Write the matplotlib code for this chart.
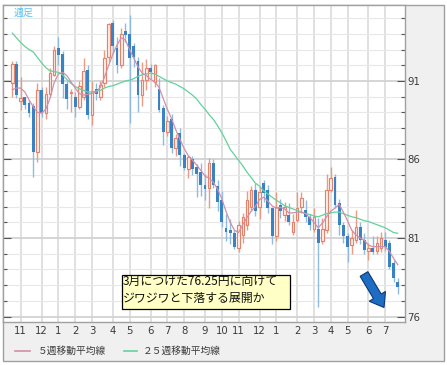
"""Weekly candlestick chart (週足) with 5- and 25-week moving averages.

Writes out.png (447x365 px).
"""

import matplotlib

matplotlib.use("Agg")

import matplotlib.pyplot as plt
import numpy as np
from matplotlib.lines import Line2D
from matplotlib.patches import FancyArrow, Rectangle
from matplotlib.ticker import MultipleLocator

# weekly OHLC, oldest first
OPEN = [
    90.9, 92.1, 89.7, 89.95, 89.6, 89.4, 86.5, 90.45, 88.95, 90.2,
    91.4, 93.1, 92.7, 90.8, 90.25, 89.95, 89.35, 89.95, 91.7, 88.85,
    90.5, 90.0, 90.85, 92.5, 94.7, 93.1, 92.0, 94.2, 94.0, 93.2,
    92.3, 90.1, 91.05, 91.8, 90.95, 90.5, 89.3, 87.75, 88.6, 86.75,
    87.7, 86.3, 85.4, 86.0, 85.5, 85.2, 84.4, 84.2, 85.8, 84.3,
    83.4, 81.65, 81.5, 81.35, 80.35, 81.2, 81.8, 83.0, 84.05, 82.95,
    84.5, 84.05, 82.9, 81.1, 83.1, 82.45, 82.45, 81.4, 82.15, 82.95,
    82.8, 82.35, 81.6, 81.6, 80.8, 81.5, 84.05, 84.9, 83.2, 81.8,
    81.1, 80.55, 80.9, 81.7, 80.85, 80.2, 80.35, 80.15, 80.35, 80.85,
    80.7, 79.4, 78.2,
]
HIGH = [
    92.3, 92.3, 91.25, 90.0, 89.8, 89.6, 90.85, 90.6, 90.6, 91.8,
    93.2, 93.8, 92.9, 91.0, 90.5, 90.3, 91.0, 92.45, 92.0, 91.0,
    90.9, 91.0, 93.0, 94.7, 94.9, 93.8, 94.4, 94.7, 95.2, 93.4,
    92.5, 92.2, 92.4, 92.1, 92.1, 91.2, 89.5, 88.8, 88.9, 87.6,
    88.0, 86.4, 86.3, 86.2, 85.7, 85.8, 85.1, 86.1, 86.0, 84.7,
    84.0, 82.5, 82.2, 81.5, 82.1, 82.6, 84.0, 84.3, 84.5, 84.3,
    84.7, 84.4, 83.0, 83.9, 83.5, 83.3, 83.2, 82.5, 83.9, 83.95,
    83.4, 82.5, 82.9, 82.3, 82.3, 85.05, 85.5, 85.1, 83.5, 82.0,
    81.3, 81.5, 82.8, 82.0, 81.3, 80.7, 81.1, 81.1, 81.4, 81.4,
    80.9, 79.6, 78.45,
]
LOW = [
    90.0, 89.9, 89.15, 89.2, 88.7, 84.9, 85.85, 88.7, 88.6, 90.0,
    91.3, 92.0, 89.9, 89.2, 89.0, 88.7, 89.2, 89.8, 88.6, 88.2,
    89.8, 89.8, 90.6, 92.2, 92.8, 91.5, 91.8, 93.5, 88.3, 91.9,
    89.0, 89.4, 90.4, 91.1, 90.6, 89.0, 86.9, 87.5, 86.4, 86.2,
    85.6, 85.3, 84.8, 85.0, 83.6, 83.7, 83.4, 82.9, 84.2, 82.7,
    81.7, 80.8, 80.6, 80.3, 80.1, 80.7, 81.5, 82.7, 82.4, 82.2,
    83.3, 82.6, 80.6, 80.8, 82.3, 82.1, 81.8, 81.2, 82.0, 82.6,
    82.0, 81.5, 81.4, 76.6, 80.6, 81.3, 83.9, 82.9, 81.2, 80.7,
    79.5, 80.0, 80.7, 80.6, 80.0, 79.6, 80.0, 80.0, 80.1, 80.2,
    79.0, 78.2, 77.45,
]
CLOSE = [
    92.1, 90.1, 89.9, 89.5, 88.95, 86.5, 90.4, 88.95, 90.2, 91.5,
    93.0, 92.65, 90.8, 89.85, 90.3, 89.35, 90.7, 91.65, 88.85, 90.35,
    90.2, 90.75, 92.45, 94.6, 93.2, 92.0, 94.0, 93.95, 92.45, 92.5,
    90.1, 91.05, 91.8, 91.55, 92.0, 89.15, 87.75, 88.45, 86.75, 87.35,
    86.3, 85.45, 86.15, 85.4, 85.1, 84.4, 84.1, 85.8, 84.4, 83.3,
    82.0, 81.4, 81.3, 80.4, 81.8, 82.35, 83.4, 84.05, 82.7, 83.9,
    83.85, 82.9, 81.1, 83.0, 82.7, 83.0, 82.05, 82.0, 82.9, 83.55,
    82.35, 81.8, 82.35, 80.65, 81.6, 84.05, 84.8, 83.1, 81.8, 81.1,
    80.45, 81.0, 81.7, 80.85, 80.25, 80.35, 80.1, 80.65, 81.0, 80.45,
    79.15, 78.45, 77.9,
]

# moving averages, one value per week
MA5 = [
    90.45, 90.55, 90.55, 90.3, 89.8, 89.35, 89.0, 88.95, 89.2, 89.9,
    90.9, 91.45, 91.55, 91.35, 90.95, 90.55, 90.2, 90.1, 90.15, 90.2,
    90.3, 90.6, 91.25, 92.0, 92.7, 93.3, 93.75, 93.6, 93.0, 92.45,
    91.9, 91.5, 91.35, 91.1, 90.95, 90.6, 89.9, 89.2, 88.6, 87.9,
    87.3, 86.7, 86.25, 85.95, 85.65, 85.3, 84.95, 84.8, 84.55, 84.1,
    83.5, 82.7, 82.0, 81.5, 81.35, 81.85, 82.3, 82.7, 83.0, 83.45,
    83.6, 83.35, 83.05, 82.9, 82.95, 82.85, 82.6, 82.6, 82.65, 82.65,
    82.55, 82.3, 82.0, 81.65, 81.95, 82.35, 82.7, 82.9, 83.15, 82.65,
    82.1, 81.5, 81.2, 81.0, 80.85, 80.55, 80.45, 80.45, 80.45, 80.45,
    80.15, 79.7, 79.3,
]
MA25 = [
    94.05, 93.75, 93.45, 93.2, 93.0, 92.85, 92.5, 92.15, 91.85, 91.65,
    91.6, 91.55, 91.4, 91.1, 90.85, 90.65, 90.5, 90.4, 90.3, 90.3,
    90.35, 90.4, 90.55, 90.65, 90.7, 90.8, 90.9, 91.0, 91.05, 91.15,
    91.3, 91.4, 91.45, 91.5, 91.45, 91.3, 91.15, 91.0, 90.9, 90.8,
    90.65, 90.5, 90.3, 90.1, 89.85, 89.5, 89.2, 88.85, 88.55, 88.15,
    87.7, 87.2, 86.65, 86.3, 85.95, 85.6, 85.2, 84.85, 84.5, 84.3,
    84.0, 83.8, 83.6, 83.4, 83.25, 83.05, 82.95, 82.85, 82.75, 82.65,
    82.55, 82.5, 82.4, 82.35, 82.45, 82.55, 82.6, 82.65, 82.65, 82.55,
    82.45, 82.35, 82.3, 82.2, 82.1, 82.05, 81.95, 81.85, 81.75, 81.65,
    81.5, 81.35, 81.3,
]

MONTH_TICK_WEEKS = [2, 7, 11, 15, 19, 24, 28, 33, 37, 41, 46, 50, 54, 59, 63, 68, 72, 76, 80, 85, 89]
MONTH_LABELS = ["11", "12", "1", "2", "3", "4", "5", "6", "7", "8", "9", "10",
                "11", "12", "1", "2", "3", "4", "5", "6", "7"]
PRICE_TICKS = [76, 81, 86, 91]

TITLE = "週足"
LEGEND_LABELS = ["５週移動平均線", "２５週移動平均線"]
NOTE_LINES = ["3月につけた76.25円に向けて", "ジワジワと下落する展開か"]

FIG_W, FIG_H = 447, 365
CJK = ["Noto Sans CJK JP", "DejaVu Sans"]

UP_EDGE = "#e5826a"
UP_FILL = "#fdf2ee"
UP_WICK = "#ec9a84"
DOWN_BODY = "#3b82c4"
DOWN_WICK = "#8fbbe2"
MA5_COLOR = "#d08fab"
MA25_COLOR = "#62d29b"
LABEL_COLOR = "#3a3a3a"


def fx(px: float) -> float:
    return px / FIG_W


def fy(py: float) -> float:
    return 1 - py / FIG_H


def draw_candles(ax: plt.Axes) -> None:
    o = np.array(OPEN)
    h = np.array(HIGH)
    l = np.array(LOW)
    c = np.array(CLOSE)
    x = np.arange(len(o))
    up = c >= o
    dn = ~up

    ax.vlines(x[up], l[up], h[up], color=UP_WICK, linewidth=1.0, zorder=2)
    ax.vlines(x[dn], l[dn], h[dn], color=DOWN_WICK, linewidth=1.0, zorder=2)
    ax.bar(x[up], (c - o)[up], bottom=o[up], width=0.6, facecolor=UP_FILL,
           edgecolor=UP_EDGE, linewidth=0.85, zorder=3)
    ax.bar(x[dn], (o - c)[dn], bottom=c[dn], width=0.68, color=DOWN_BODY,
           linewidth=0, zorder=3)

    ax.plot(x, MA25, color=MA25_COLOR, linewidth=0.9, zorder=4)
    ax.plot(x, MA5, color=MA5_COLOR, linewidth=0.9, zorder=4)


def style_axis(ax: plt.Axes) -> None:
    ax.set_xlim(-2.22, 93.72)
    ax.set_ylim(75.65, 95.84)

    ax.set_xticks(MONTH_TICK_WEEKS, MONTH_LABELS)
    ax.set_yticks(PRICE_TICKS)
    ax.yaxis.set_minor_locator(MultipleLocator(1))

    ax.grid(axis="y", which="minor", color="#e8e8e8", linewidth=0.8, zorder=0)
    ax.grid(axis="y", which="major", color="#d2d2d2", linewidth=1.3, zorder=0)
    ax.grid(axis="x", which="major", color="#dadada", linewidth=1.2, zorder=0)
    ax.set_axisbelow(True)

    ax.tick_params(axis="x", length=0, pad=3, labelsize=7.3, labelcolor=LABEL_COLOR)
    ax.tick_params(axis="y", which="both", direction="in", left=True, right=True,
                   labelleft=False, labelright=True, color="#555555", width=0.8)
    ax.tick_params(axis="y", which="major", length=5.5, pad=1.8,
                   labelsize=7.3, labelcolor=LABEL_COLOR)
    ax.tick_params(axis="y", which="minor", length=3.2)

    for spine in ax.spines.values():
        spine.set_color("#a0a0a0")
        spine.set_linewidth(1.0)


def add_decorations(fig: plt.Figure) -> None:
    # outer light-grey frame
    fig.add_artist(Rectangle((fx(3), fy(361)), fx(444) - fx(3), fy(5) - fy(361),
                             transform=fig.transFigure, facecolor="#f0f0f0",
                             edgecolor="#a0a0a0", linewidth=1.0, zorder=-1))

    fig.text(fx(14), fy(13), TITLE, color="#5cc4ee", fontsize=7.2, family=CJK,
             ha="left", va="center")

    # legend
    legend_y = fy(351)
    for (x0, x1, tx), label, color in zip([(15, 30, 38), (124, 137, 142.5)],
                                          LEGEND_LABELS, [MA5_COLOR, MA25_COLOR]):
        fig.add_artist(Line2D([fx(x0), fx(x1)], [legend_y, legend_y],
                              transform=fig.transFigure, color=color, linewidth=1.2))
        fig.text(fx(tx), legend_y, label, fontsize=7.0, family=CJK, color=LABEL_COLOR,
                 ha="left", va="center")

    # comment box
    fig.add_artist(Rectangle((fx(121.5), fy(309)), fx(290) - fx(121.5), fy(275) - fy(309),
                             transform=fig.transFigure, facecolor="#ffffc6",
                             edgecolor="#000000", linewidth=0.9, zorder=5))
    for text, py in zip(NOTE_LINES, [281.5, 298.5]):
        fig.text(fx(123), fy(py), text, fontsize=8.6, family=CJK, color="#111111",
                 ha="left", va="center", zorder=6)

    # blue block arrow pointing down-right
    tail = (364.0, 274.0)
    tip = (384.0, 307.5)
    fig.add_artist(FancyArrow(tail[0] / 100, (FIG_H - tail[1]) / 100,
                              (tip[0] - tail[0]) / 100, -(tip[1] - tail[1]) / 100,
                              width=0.09, head_width=0.19, head_length=0.13,
                              length_includes_head=True, transform=fig.dpi_scale_trans,
                              facecolor="#1d6dc4", edgecolor="#0c3a73",
                              linewidth=0.8, zorder=6))


def main() -> None:
    plt.rcParams["font.family"] = ["DejaVu Sans"]
    fig = plt.figure(figsize=(FIG_W / 100, FIG_H / 100), dpi=100)
    fig.patch.set_facecolor("white")

    ax = fig.add_axes([fx(3), fy(322), fx(405) - fx(3), fy(5) - fy(322)])
    ax.set_facecolor("white")

    draw_candles(ax)
    style_axis(ax)
    add_decorations(fig)

    fig.savefig("out.png", dpi=100, facecolor="white")
    plt.close(fig)


if __name__ == "__main__":
    main()
